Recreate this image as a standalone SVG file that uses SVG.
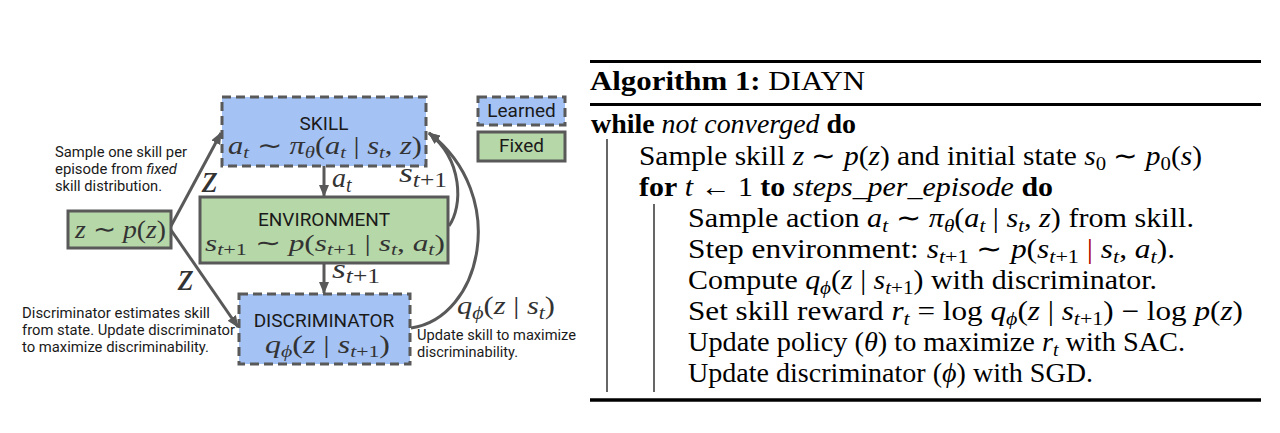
<svg xmlns="http://www.w3.org/2000/svg" width="1280" height="433" viewBox="0 0 1280 433">
<style>
.lbl{font-family:Roboto,"Liberation Sans",sans-serif;fill:#1a1a1a}
.bx{font-family:Roboto,"Liberation Sans",sans-serif;font-size:19px;fill:#1a1a1a;text-anchor:middle}
.m{font-family:"Liberation Serif",serif;fill:#333}
.i{font-style:italic}
.alg{font-family:"Liberation Serif",serif;font-size:27px;fill:#000}
.b{font-weight:bold}
.sub{font-size:19px}
.conn{fill:none;stroke:#595959;stroke-width:3}
.learned{fill:#a4c2f4;stroke:#595959;stroke-width:3;stroke-dasharray:9 5}
.fixed{fill:#b6d7a8;stroke:#595959;stroke-width:3}
.rule{stroke:#000}
</style>
<defs>
<marker id="ah" viewBox="0 0 12 10" refX="11" refY="5" markerWidth="12" markerHeight="10" markerUnits="userSpaceOnUse" orient="auto">
<path d="M0,0 L12,5 L0,10 z" fill="#595959"/>
</marker>
</defs>
<rect width="1280" height="433" fill="#fff"/>

<g id="connectors">
<line class="conn" x1="171" y1="226" x2="221" y2="133" marker-end="url(#ah)"/>
<line class="conn" x1="171" y1="230" x2="238" y2="327" marker-end="url(#ah)"/>
<line class="conn" x1="324" y1="166" x2="324" y2="196" marker-end="url(#ah)"/>
<line class="conn" x1="324" y1="263" x2="324" y2="293" marker-end="url(#ah)"/>
<path class="conn" d="M449,226 C463,206 463,160 429,133" marker-end="url(#ah)"/>
<path class="conn" d="M411,328 C482,318 510,195 429,133" marker-end="url(#ah)"/>
<text class="m i" x="202" y="192" font-size="40">z</text>
<text class="m i" x="178" y="290" font-size="40">z</text>
<text class="m" x="332" y="187" font-size="28"><tspan class="i">a</tspan><tspan class="i" font-size="20" dy="5">t</tspan></text>
<text class="m" x="399" y="182" font-size="28" textLength="48" lengthAdjust="spacingAndGlyphs"><tspan class="i">s</tspan><tspan font-size="20" dy="5"><tspan class="i">t</tspan>+1</tspan></text>
<text class="m" x="332" y="278" font-size="28" textLength="48" lengthAdjust="spacingAndGlyphs"><tspan class="i">s</tspan><tspan font-size="20" dy="5"><tspan class="i">t</tspan>+1</tspan></text>
<text class="m" x="457" y="314" font-size="25" textLength="98" lengthAdjust="spacingAndGlyphs"><tspan class="i">q</tspan><tspan class="i" font-size="18" dy="5">ϕ</tspan><tspan dy="-5">(</tspan><tspan class="i">z</tspan><tspan> | </tspan><tspan class="i">s</tspan><tspan class="i" font-size="18" dy="5">t</tspan><tspan dy="-5">)</tspan></text>
</g>

<g id="note-sample">
<text class="lbl" font-size="15.5" x="55" y="157" textLength="132" lengthAdjust="spacingAndGlyphs">Sample one skill per</text>
<text class="lbl" font-size="15.5" x="55" y="174" textLength="122" lengthAdjust="spacingAndGlyphs">episode from <tspan font-style="italic">fixed</tspan></text>
<text class="lbl" font-size="15.5" x="55" y="191" textLength="107" lengthAdjust="spacingAndGlyphs">skill distribution.</text>
</g>
<g id="note-disc">
<text class="lbl" font-size="15" x="22" y="318" textLength="188" lengthAdjust="spacingAndGlyphs">Discriminator estimates skill</text>
<text class="lbl" font-size="15" x="22" y="335" textLength="213" lengthAdjust="spacingAndGlyphs">from state. Update discriminator</text>
<text class="lbl" font-size="15" x="22" y="352" textLength="187" lengthAdjust="spacingAndGlyphs">to maximize discriminability.</text>
</g>
<g id="note-update">
<text class="lbl" font-size="14.5" x="417" y="340" textLength="159" lengthAdjust="spacingAndGlyphs">Update skill to maximize</text>
<text class="lbl" font-size="14.5" x="417" y="357" textLength="101" lengthAdjust="spacingAndGlyphs">discriminability.</text>
</g>

<g id="prior">
<rect class="fixed" x="68" y="211" width="103" height="37"/>
<text class="m" x="120.5" y="238" font-size="26" text-anchor="middle" textLength="91" lengthAdjust="spacingAndGlyphs"><tspan class="i">z</tspan> ∼ <tspan class="i">p</tspan>(<tspan class="i">z</tspan>)</text>
</g>

<g id="skill">
<rect class="learned" x="222" y="97" width="204" height="69"/>
<text class="bx" x="324" y="130">SKILL</text>
<text class="m" x="325" y="154" font-size="25" text-anchor="middle" textLength="194" lengthAdjust="spacingAndGlyphs"><tspan class="i">a</tspan><tspan class="i" font-size="17" dy="4">t</tspan><tspan dy="-4"> ∼ </tspan><tspan class="i">π</tspan><tspan class="i" font-size="17" dy="4">θ</tspan><tspan dy="-4">(</tspan><tspan class="i">a</tspan><tspan class="i" font-size="17" dy="4">t</tspan><tspan dy="-4"> | </tspan><tspan class="i">s</tspan><tspan class="i" font-size="17" dy="4">t</tspan><tspan dy="-4">, </tspan><tspan class="i">z</tspan><tspan>)</tspan></text>
</g>

<g id="environment">
<rect class="fixed" x="200" y="197" width="248" height="66"/>
<text class="bx" x="324" y="226">ENVIRONMENT</text>
<text class="m" x="325" y="251" font-size="24" text-anchor="middle" textLength="240" lengthAdjust="spacingAndGlyphs"><tspan class="i">s</tspan><tspan font-size="17" dy="4"><tspan class="i">t</tspan>+1</tspan><tspan dy="-4"> ∼ </tspan><tspan class="i">p</tspan><tspan>(</tspan><tspan class="i">s</tspan><tspan font-size="17" dy="4"><tspan class="i">t</tspan>+1</tspan><tspan dy="-4"> | </tspan><tspan class="i">s</tspan><tspan class="i" font-size="17" dy="4">t</tspan><tspan dy="-4">, </tspan><tspan class="i">a</tspan><tspan class="i" font-size="17" dy="4">t</tspan><tspan dy="-4">)</tspan></text>
</g>

<g id="discriminator">
<rect class="learned" x="239" y="294" width="171" height="70"/>
<text class="bx" x="324" y="327">DISCRIMINATOR</text>
<text class="m" x="327.5" y="353" font-size="25" text-anchor="middle" textLength="125" lengthAdjust="spacingAndGlyphs"><tspan class="i">q</tspan><tspan class="i" font-size="17" dy="4">ϕ</tspan><tspan dy="-4">(</tspan><tspan class="i">z</tspan><tspan> | </tspan><tspan class="i">s</tspan><tspan font-size="17" dy="4"><tspan class="i">t</tspan>+1</tspan><tspan dy="-4">)</tspan></text>
</g>

<g id="legend-learned">
<rect class="learned" x="478" y="97" width="87" height="28"/>
<text class="bx" x="521.5" y="117" font-size="18">Learned</text>
</g>
<g id="legend-fixed">
<rect class="fixed" x="478" y="132" width="87" height="29"/>
<text class="bx" x="521.5" y="152" font-size="18">Fixed</text>
</g>

<g id="algorithm">
<line class="rule" x1="590" y1="61.5" x2="1261" y2="61.5" stroke-width="3"/>
<line class="rule" x1="590" y1="104.5" x2="1261" y2="104.5" stroke-width="3"/>
<line class="rule" x1="590" y1="400" x2="1261" y2="400" stroke-width="3.5"/>
<line class="rule" x1="607" y1="139" x2="607" y2="392" stroke-width="1.2"/>
<line class="rule" x1="654" y1="204" x2="654" y2="392" stroke-width="1.2"/>
<text class="alg" x="590" y="90" font-size="31" textLength="275" lengthAdjust="spacingAndGlyphs"><tspan class="b">Algorithm 1:</tspan> DIAYN</text>
<text class="alg" x="591" y="133" textLength="265" lengthAdjust="spacingAndGlyphs"><tspan class="b">while</tspan> <tspan class="i">not converged</tspan> <tspan class="b">do</tspan></text>
<text class="alg" x="639" y="165" textLength="563" lengthAdjust="spacingAndGlyphs">Sample skill <tspan class="i">z</tspan> ∼ <tspan class="i">p</tspan>(<tspan class="i">z</tspan>) and initial state <tspan class="i">s</tspan><tspan class="sub" dy="5">0</tspan><tspan dy="-5"> ∼ </tspan><tspan class="i">p</tspan><tspan class="sub" dy="5">0</tspan><tspan dy="-5">(</tspan><tspan class="i">s</tspan><tspan>)</tspan></text>
<text class="alg" x="639" y="196" textLength="414" lengthAdjust="spacingAndGlyphs"><tspan class="b">for</tspan> <tspan class="i">t</tspan> ← 1 <tspan class="b">to</tspan> <tspan class="i">steps_per_episode</tspan> <tspan class="b">do</tspan></text>
<text class="alg" x="688" y="227" textLength="506" lengthAdjust="spacingAndGlyphs">Sample action <tspan class="i">a</tspan><tspan class="sub i" dy="5">t</tspan><tspan dy="-5"> ∼ </tspan><tspan class="i">π</tspan><tspan class="sub i" dy="5">θ</tspan><tspan dy="-5">(</tspan><tspan class="i">a</tspan><tspan class="sub i" dy="5">t</tspan><tspan dy="-5"> | </tspan><tspan class="i">s</tspan><tspan class="sub i" dy="5">t</tspan><tspan dy="-5">, </tspan><tspan class="i">z</tspan><tspan>) from skill.</tspan></text>
<text class="alg" x="688" y="258" textLength="487" lengthAdjust="spacingAndGlyphs">Step environment: <tspan class="i">s</tspan><tspan class="sub" dy="5"><tspan class="i">t</tspan>+1</tspan><tspan dy="-5"> ∼ </tspan><tspan class="i">p</tspan><tspan>(</tspan><tspan class="i">s</tspan><tspan class="sub" dy="5"><tspan class="i">t</tspan>+1</tspan><tspan dy="-5"> </tspan><tspan fill="#b00000">|</tspan><tspan> </tspan><tspan class="i">s</tspan><tspan class="sub i" dy="5">t</tspan><tspan dy="-5">, </tspan><tspan class="i">a</tspan><tspan class="sub i" dy="5">t</tspan><tspan dy="-5">).</tspan></text>
<text class="alg" x="688" y="289" textLength="469" lengthAdjust="spacingAndGlyphs">Compute <tspan class="i">q</tspan><tspan class="sub i" dy="5">ϕ</tspan><tspan dy="-5">(</tspan><tspan class="i">z</tspan><tspan> | </tspan><tspan class="i">s</tspan><tspan class="sub" dy="5"><tspan class="i">t</tspan>+1</tspan><tspan dy="-5">) with discriminator.</tspan></text>
<text class="alg" x="688" y="320" textLength="555" lengthAdjust="spacingAndGlyphs">Set skill reward <tspan class="i">r</tspan><tspan class="sub i" dy="5">t</tspan><tspan dy="-5"> = log </tspan><tspan class="i">q</tspan><tspan class="sub i" dy="5">ϕ</tspan><tspan dy="-5">(</tspan><tspan class="i">z</tspan><tspan> | </tspan><tspan class="i">s</tspan><tspan class="sub" dy="5"><tspan class="i">t</tspan>+1</tspan><tspan dy="-5">) − log </tspan><tspan class="i">p</tspan><tspan>(</tspan><tspan class="i">z</tspan><tspan>)</tspan></text>
<text class="alg" x="688" y="351" textLength="497" lengthAdjust="spacingAndGlyphs">Update policy (<tspan class="i">θ</tspan>) to maximize <tspan class="i">r</tspan><tspan class="sub i" dy="5">t</tspan><tspan dy="-5"> with SAC.</tspan></text>
<text class="alg" x="688" y="382" textLength="405" lengthAdjust="spacingAndGlyphs">Update discriminator (<tspan class="i">ϕ</tspan>) with SGD.</text>
</g>
</svg>
